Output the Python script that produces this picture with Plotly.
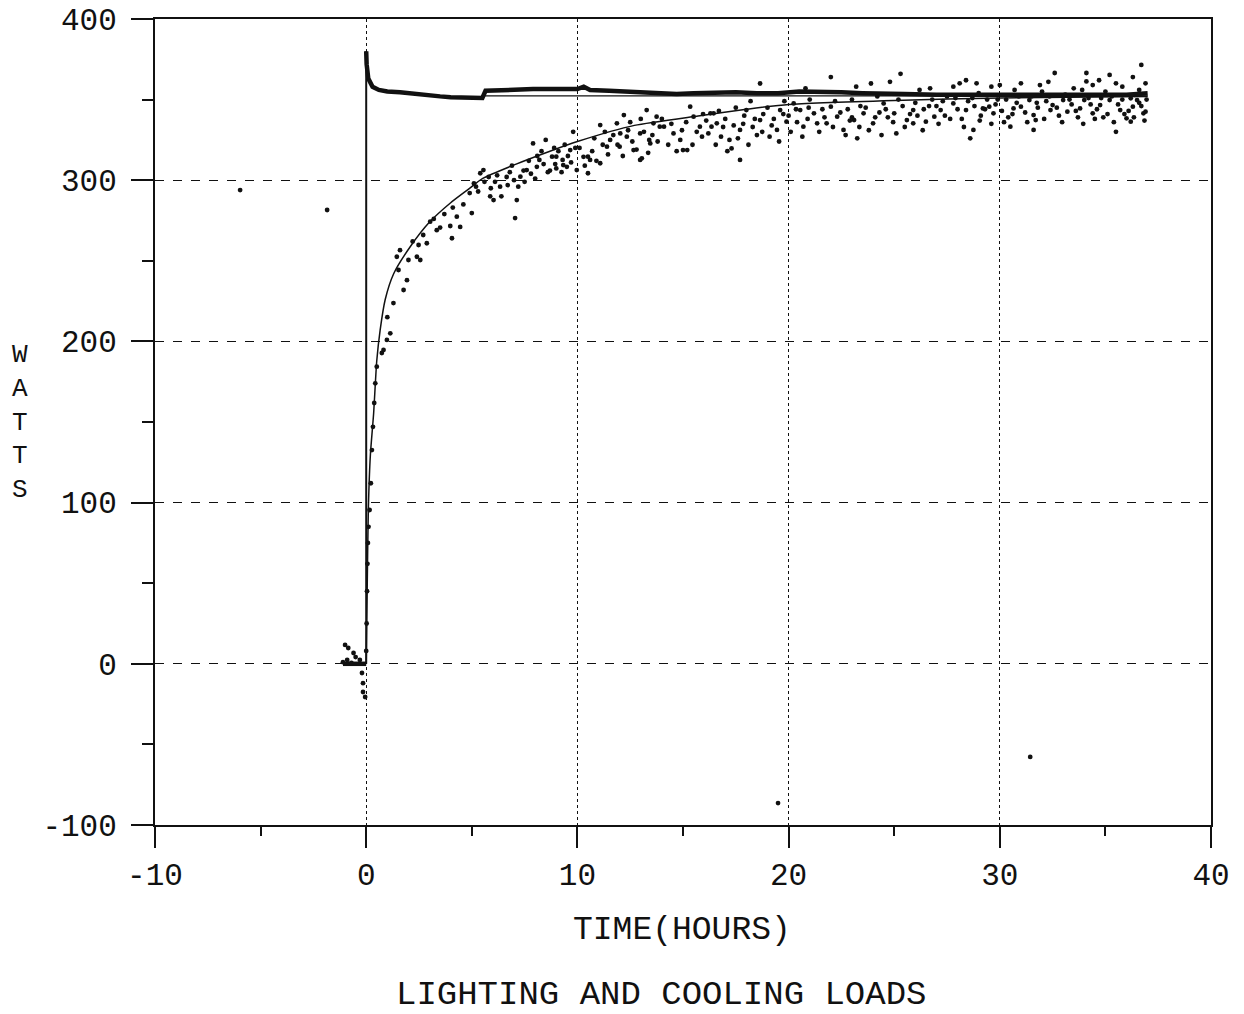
import plotly.graph_objects as go

# ---------------- data ----------------
x_ticks = [-10, 0, 10, 20, 30, 40]
y_ticks = [-100, 0, 100, 200, 300, 400]

# lighting load (thick line)
light_x = [-1.1, 0.0, None, 0.0, 0.02, 0.1, 0.3, 0.6, 1.0, 1.6, 2.5, 3.5, 4.0, 5.0, 5.5, 5.65, 6.5,
           7.9, 9.0, 10.0, 10.3, 10.6, 11.5, 12.6, 13.5, 14.7, 15.5, 16.5, 17.5, 18.5, 19.5, 20.5,
           21.5, 22.5, 23.5, 24.5, 25.5, 27.0, 28.5, 30.0, 31.5, 33.0, 34.5, 36.0, 37.0]
light_y = [0, 0, None, 380, 372, 363, 358, 356, 355, 354.5, 353, 352, 351.5, 351, 351, 355.5, 356,
           356.5, 356.5, 356.5, 358, 356, 355.5, 354.7, 354, 353.5, 354, 354.5, 354.5, 354, 354, 355,
           355, 354.5, 354, 353.5, 353.5, 353, 353, 352.5, 352.5, 353, 352.5, 353, 354]

# step of the lighting load at t = 0
step_x = [0.0, 0.0]
step_y = [0, 380]

# steady lighting power level (thin)
level_x = [5.6, 37.0]
level_y = [352.3, 352.3]

# model cooling load (thin curve)
model_x = [0.0, 0.05, 0.1, 0.2, 0.35, 0.5, 0.66, 0.9, 1.3, 2.1, 3.0, 4.0, 4.8, 5.5, 7.1, 8.7,
           10.0, 12.7, 15.8, 18.0, 20.0, 25.0, 30.0, 37.0]
model_y = [0, 50, 95, 130, 155, 188, 207, 226, 242, 259, 274, 286, 294, 301, 310, 318,
           324, 334, 340, 344, 347, 349.5, 351, 352]

# measured cooling load (dots)
meas_x = [
    -1.0, -0.85, -0.6, -0.5, -0.9, -0.3, -1.1, -0.7, -0.2, -0.15, -0.15, -0.05,
    0.0, 0.02, 0.04, 0.06, 0.08, 0.11, 0.16, 0.22, 0.27, 0.32, 0.38, 0.43, 0.5,
    0.74, 0.82, 0.98, 1.14, 1.0,
    1.29, 1.45, 1.53, 1.6, 1.77, 1.93, 2.0, 2.4, 2.48, 2.56, 2.87, 3.03, 3.34, 3.5,
    3.98, 4.06, 4.29, 4.45, 5.0, 2.2, 2.7, 3.2, 3.7, 4.1, 4.6, 4.9, 5.2,
    5.4, 5.55, 5.87, 6.03, 6.34, 6.65, 7.05, 7.13, 7.3, 7.45, 7.6, 7.9, 8.08, 8.2,
    8.5, 8.7, 8.8, 9.0, 9.0, 9.3, 9.33, 9.5, 9.66, 9.8, 9.97,
    5.8, 6.1, 6.9, 7.7, 8.3, 8.9, 9.4,
    10.29, 10.5, 10.5, 10.6, 11.08, 11.08, 11.4, 11.55, 11.87, 12.0, 12.03, 12.2,
    12.34, 12.66, 12.97, 12.97, 13.05, 13.28, 13.4, 13.45, 13.6, 13.75, 13.9, 14.1,
    14.55, 14.87, 15.0, 15.2, 15.34, 15.5, 15.8, 15.9, 10.8, 11.3, 12.5, 13.0,
    16.3, 16.35, 16.45, 16.6, 16.8, 17.2, 17.3, 17.7, 17.7, 18.0, 18.5, 18.65, 18.65,
    19.1, 19.45, 19.6, 19.9, 20.24, 20.55, 20.7, 21.2, 21.35, 21.8, 22.0, 22.0, 22.3,
    22.6, 23.1, 23.25, 23.55, 23.9, 24.0, 24.5, 24.8, 25.0, 25.1, 25.3, 25.6, 25.9,
    25.9, 17.0, 18.2, 19.0, 21.0, 23.0, 17.5, 20.0, 22.8, 24.3,
    26.5, 26.9, 27.2, 27.8, 27.8, 28.1, 28.4, 28.6, 28.75, 28.9, 29.2, 29.5, 29.7,
    30.0, 30.5, 30.65, 31.0, 31.0, 31.4, 31.6, 31.6, 31.7, 31.9, 32.4, 32.5, 32.6,
    33.0, 33.2, 33.8, 34.0, 34.1, 34.1, 34.4, 34.4, 34.75, 35.2, 35.2, 35.5, 35.5,
    35.7, 36.0, 36.2, 36.2, 36.3, 36.5, 36.7, 36.8, 36.9, 36.9,
    26.2, 27.5, 29.0, 30.3, 32.0, 33.5, 35.0, 36.6,
    26.0, 26.4, 26.8, 27.0, 27.4, 27.9, 28.2, 28.5, 28.8, 29.1, 29.4, 29.8, 30.1,
    30.4, 30.8, 31.2, 31.5, 31.8, 32.2, 32.8, 33.1, 33.4, 33.7, 34.2, 34.6, 34.9,
    35.3, 35.6, 35.9, 36.4, 36.7, 36.95, 20.9, 21.6, 22.2, 22.9, 23.4, 23.8, 24.2,
    24.7, 25.4, 18.3, 18.8, 19.3, 19.8, 20.4, 16.1, 16.7, 17.4, 17.9,
    5.1, 5.3, 5.6, 5.9, 6.2, 6.4, 6.7, 6.8, 7.0, 7.2, 7.5, 7.8, 8.0, 8.1, 8.4, 8.6,
    8.95, 9.1, 9.25, 9.55, 9.7, 9.9,
    10.1, 10.35, 10.7, 10.9, 11.2, 11.45, 11.7, 11.9, 12.15, 12.4, 12.6, 12.8, 13.15,
    13.35, 13.55, 13.8, 14.0, 14.3, 14.45, 14.7, 14.95, 15.15, 15.45, 15.65, 15.95,
    16.2, 16.55, 16.9, 17.1, 17.6, 17.85, 18.1, 18.4, 18.75, 19.2, 19.55, 19.75, 20.1,
    20.35, 20.65, 20.95, 21.45, 21.7, 22.1, 22.45, 22.7, 23.0, 23.35, 23.65, 24.1,
    24.4, 24.6, 24.95, 25.2, 25.5, 25.75,
    26.1, 26.35, 26.65, 27.1, 27.3, 27.65, 28.0, 28.3, 28.7, 29.05, 29.3, 29.6, 29.9,
    30.2, 30.6, 30.9, 31.3, 31.75, 32.1, 32.35, 32.7, 32.95, 33.3, 33.6, 33.95, 34.3,
    34.5, 34.8, 35.1, 35.4, 35.8, 36.1, 36.35, 36.6, 36.85,
    20.8, 23.2, 26.7, 29.6, 32.3, 34.7, 36.3, 28.4, 30.7, 33.9, 35.8,
    -5.97, -1.85, 19.5, 31.44,
]
meas_y = [
    11.7, 9.8, 6.7, 4.2, 2.4, 2.4, 1, 0.5, -5.7, -12, -17.5, -20.6,
    8, 25, 45, 62, 75, 85, 95.4, 112, 132.6, 147, 161.8, 174, 184.3,
    192.8, 194.7, 200.9, 205, 215,
    223.8, 252.5, 244.3, 256.6, 231.9, 238, 250.5, 252.5, 259.8, 250.5, 260.9, 274.3, 269, 270.6,
    271.6, 264, 277.4, 271, 279.6, 262, 266, 276, 279, 283, 285, 292, 296,
    304.3, 306.3, 290, 287.7, 296, 302, 276.5, 287.7, 302.2, 306, 306.3, 322.8, 308.3, 312.6,
    325, 306, 314.6, 307.3, 314.6, 312.6, 309.4, 308.3, 318.7, 330, 306.3,
    302, 299, 309, 312, 318, 320, 322,
    314.5, 314.6, 304.3, 312.6, 310.5, 334.2, 320.8, 325, 335.3, 320.8, 329, 340.4,
    327, 318.7, 329, 312.6, 313.6, 343.5, 325, 322.8, 335.3, 339.4, 333.2, 333.2,
    329, 325, 318.7, 318.7, 345.6, 339.4, 333.2, 327, 326, 330, 336, 338,
    341.5, 333.2, 341.5, 335.3, 327, 325, 319.7, 312.6, 331.2, 343.5, 328, 337.3, 360,
    327, 331.2, 343.5, 336.3, 347.6, 343.5, 333.2, 341.5, 335.3, 335.3, 345.6, 364, 339.4,
    331.2, 337.3, 326, 341.5, 360, 335.3, 347.6, 361, 341.5, 329, 366, 337.3, 335.3,
    343.5, 338, 349, 345, 350, 350, 345, 340, 344, 342,
    336.3, 339.4, 343.5, 347.6, 358, 360.1, 343.5, 326, 331.2, 360.1, 344.5, 345.6, 341.5,
    359, 333.2, 344.5, 360.1, 345.6, 349.7, 340.4, 331.2, 337.3, 359, 343.5, 346.6, 366.5,
    349.7, 342.5, 344.5, 349.7, 366.5, 361.3, 359, 341.5, 346.6, 365.3, 349.7, 360.1, 330,
    343.5, 338.4, 336.3, 350.8, 345.6, 349.7, 371.5, 341.5, 360.1, 342.5,
    356, 352, 354, 350, 355, 357, 355, 356,
    348, 344, 350, 346, 340, 351, 338, 349, 346, 340, 350, 347, 343,
    339, 348, 342, 352, 345, 349, 340, 353, 347, 339, 351, 344, 339,
    352, 347, 341, 353, 346, 350, 338, 344, 349, 337, 346, 331, 352,
    339, 346, 333, 341, 338, 349, 336, 337, 343, 334, 340,
    298, 293, 299, 295, 303, 290, 297, 305, 300, 296, 299, 304, 301, 315, 310, 305,
    310, 318, 305, 315, 311, 320,
    320, 309, 318, 312, 322, 316, 328, 322, 315, 331, 324, 319, 330,
    317, 328, 324, 338, 322, 335, 318, 331, 336, 322, 330, 341,
    329, 322, 333, 318, 326, 335, 322, 338, 330, 334, 324, 341, 330,
    344, 327, 345, 330, 339, 333, 342, 328, 339, 333, 345, 339,
    328, 344, 336, 350, 333, 341,
    340, 331, 346, 335, 349, 338, 344, 333, 351, 337, 344, 335, 350,
    336, 341, 352, 336, 348, 338, 352, 345, 336, 350, 343, 335, 347,
    338, 351, 341, 336, 350, 343, 339, 348, 337,
    357, 358, 357, 358, 361, 362, 364, 362, 356, 356, 358,
    293.9, 281.5, -86.4, -57.8,
]

# ---------------- figure ----------------
MONO = "Liberation Mono, Courier New, monospace"
INK = "#111111"

fig = go.Figure()

fig.add_trace(go.Scatter(x=meas_x, y=meas_y, mode="markers",
                         marker=dict(color=INK, size=4.8, line=dict(width=0)),
                         showlegend=False, hoverinfo="skip"))
fig.add_trace(go.Scatter(x=model_x, y=model_y, mode="lines",
                         line=dict(color=INK, width=1.5, shape="spline", smoothing=0.6),
                         showlegend=False, hoverinfo="skip"))
fig.add_trace(go.Scatter(x=level_x, y=level_y, mode="lines",
                         line=dict(color=INK, width=1.3),
                         showlegend=False, hoverinfo="skip"))
fig.add_trace(go.Scatter(x=step_x, y=step_y, mode="lines",
                         line=dict(color=INK, width=2),
                         showlegend=False, hoverinfo="skip"))
fig.add_trace(go.Scatter(x=light_x, y=light_y, mode="lines",
                         line=dict(color=INK, width=4.5),
                         showlegend=False, hoverinfo="skip", connectgaps=False))

axis_common = dict(
    showline=True, linecolor=INK, linewidth=2, mirror=True,
    ticks="outside", tickcolor=INK, tickwidth=2, automargin=False,
    zeroline=False, showgrid=True, gridcolor=INK, gridwidth=1.4,
    tickfont=dict(family=MONO, size=31, color=INK),
)

fig.update_xaxes(range=[-10, 40], tickvals=x_ticks, ticktext=[str(v) for v in x_ticks],
                 ticklen=21, griddash="dot",
                 minor=dict(dtick=5, tick0=0, ticklen=9, tickwidth=2, tickcolor=INK,
                            ticks="outside", showgrid=False),
                 **axis_common)
fig.update_yaxes(range=[-100, 400], tickvals=y_ticks, ticktext=[str(v) for v in y_ticks],
                 ticklen=22, griddash="dash", ticklabelstandoff=8,
                 minor=dict(dtick=50, tick0=0, ticklen=11, tickwidth=2, tickcolor=INK,
                            ticks="outside", showgrid=False),
                 **axis_common)

fig.add_annotation(text="TIME(HOURS)", xref="paper", yref="paper", x=0.499, y=-0.131,
                   xanchor="center", yanchor="middle", showarrow=False,
                   font=dict(family=MONO, size=33, color=INK))
fig.add_annotation(text="LIGHTING AND COOLING LOADS", xref="paper", yref="paper", x=0.48, y=-0.211,
                   xanchor="center", yanchor="middle", showarrow=False,
                   font=dict(family=MONO, size=34, color=INK))
fig.add_annotation(text="W<br>A<br>T<br>T<br>S", xref="paper", yref="paper", x=-0.128, y=0.5,
                   xanchor="center", yanchor="middle", showarrow=False, align="center",
                   font=dict(family=MONO, size=26, color=INK))

fig.update_layout(width=1244, height=1014, margin=dict(l=155, r=33, t=19, b=189, autoexpand=False),
                  paper_bgcolor="white", plot_bgcolor="white")

fig.write_html("out.html", config={"displayModeBar": False},
               post_script="document.body.style.margin='0';")
